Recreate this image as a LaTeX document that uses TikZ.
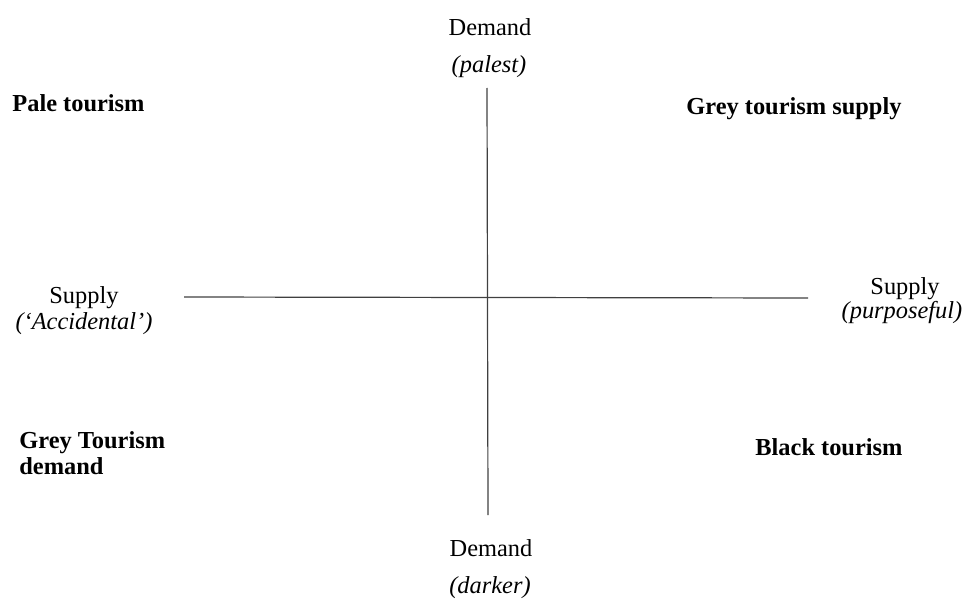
\documentclass[tikz,border=0pt]{standalone}
\usepackage{fontspec}
\setmainfont{Liberation Serif}
\begin{document}
\begin{tikzpicture}[x=0.5pt,y=-0.5pt,
  lbl/.style={inner sep=0pt,font=\fontsize{12.2}{14}\selectfont},
  qlbl/.style={inner sep=0pt,font=\fontsize{12.2}{14}\selectfont\bfseries,anchor=west,align=left},
  axis/.style={draw=black!75,line width=0.6pt}]
\useasboundingbox (0,0) rectangle (967,599);
% axes
\coordinate (vtop) at (487,88);
\coordinate (vbot) at (488,515);
\coordinate (hleft) at (184,297);
\coordinate (hright) at (808,298);
\draw[axis] (vtop) -- (vbot);
\draw[axis] (hleft) -- (hright);
% axis labels
\node[lbl] (dtop) at (490,27) {Demand};
\node[lbl] (dtop2) at (489,67) {\itshape (palest)};
\node[lbl] (dbot) at (491,548) {Demand};
\node[lbl] (dbot2) at (490,588) {\itshape (darker)};
\node[lbl] (sleft) at (84,298) {Supply};
\node[lbl] (sleft2) at (84,324) {\itshape (‘Accidental’)};
\node[lbl] (sright) at (905,289) {Supply};
\node[lbl] (sright2) at (902,313) {\itshape (purposeful)};
% quadrant labels
\node[qlbl] (pale) at (12,103) {Pale tourism};
\node[qlbl] (greys) at (686,109) {Grey tourism supply};
\node[qlbl] (greyd) at (19,453) {Grey Tourism\\[-1pt]demand};
\node[qlbl] (black) at (755,447) {Black tourism};
\end{tikzpicture}
\end{document}
